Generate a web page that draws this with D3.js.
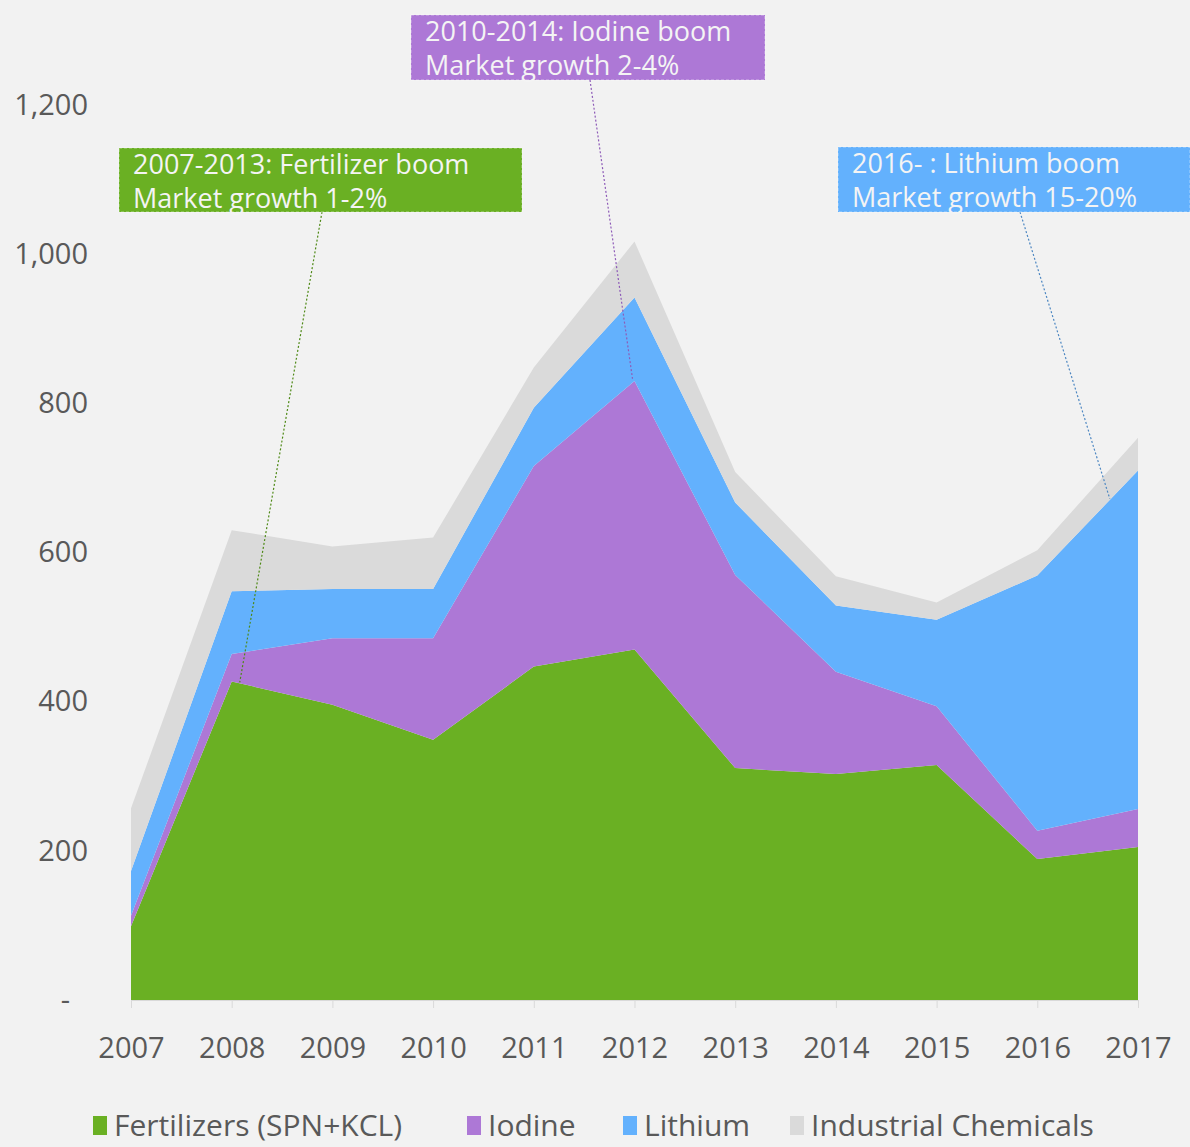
<!DOCTYPE html>
<html>
<head>
<meta charset="utf-8">
<script src="https://cdn.jsdelivr.net/npm/d3@7"></script>
<style>
  html, body { margin: 0; padding: 0; background: #f2f2f2; }
  svg { display: block; font-family: "Open Sans", sans-serif; }
  .tick text { fill: #595959; font-size: 29px; }
  .tick line { stroke: #d9d9d9; }
  .legend text { fill: #595959; font-size: 30px; }
  .note text { fill: #f4f4f4; font-size: 27px; }
</style>
</head>
<body>
<div id="chart"></div>
<script>
const years = [2007, 2008, 2009, 2010, 2011, 2012, 2013, 2014, 2015, 2016, 2017];
const fertilizers = [99, 427, 396, 349, 447, 470, 311, 303, 315, 189, 205];
const iodine = [14, 37, 89, 136, 269, 360, 259, 137, 79, 38, 51];
const lithium = [60, 84, 66, 66, 78, 112, 97, 89, 116, 342, 454];
const industrial = [84, 82, 57, 69, 54, 75, 41, 39, 23, 34, 44];

const seriesNames = ["Fertilizers (SPN+KCL)", "Iodine", "Lithium", "Industrial Chemicals"];
const yTicks = [0, 200, 400, 600, 800, 1000, 1200];

// boom call-outs: text lines and the point on the chart each one points at
const notes = [
  { lines: ["2007-2013: Fertilizer boom", "Market growth 1-2%"], year: 2008.08, value: 426 },
  { lines: ["2010-2014: Iodine boom", "Market growth 2-4%"], year: 2011.98, value: 833 },
  { lines: ["2016- : Lithium boom", "Market growth 15-20%"], year: 2016.72, value: 672 },
];

const colors = ["#6ab023", "#ad78d6", "#63b1fd", "#dadada"];
const noteBoxes = [
  { x: 119, y: 148, w: 403, h: 64, fill: "#6ab023", line: "#4f8a17" },
  { x: 411, y: 15, w: 354, h: 65, fill: "#ad78d6", line: "#8e5bb8" },
  { x: 838, y: 147, w: 352, h: 65, fill: "#63b1fd", line: "#4d87c2" },
];

const width = 1190, height = 1147;
const margin = { top: 105, right: 52, bottom: 147, left: 131 };

const table = years.map((year, i) => ({
  year,
  [seriesNames[0]]: fertilizers[i],
  [seriesNames[1]]: iodine[i],
  [seriesNames[2]]: lithium[i],
  [seriesNames[3]]: industrial[i],
}));

const stacked = d3.stack().keys(seriesNames)(table);

const x = d3.scaleLinear()
  .domain(d3.extent(years))
  .range([margin.left, width - margin.right]);
const y = d3.scaleLinear()
  .domain([0, 1200])
  .range([height - margin.bottom, margin.top]);

const svg = d3.select("#chart").append("svg")
  .attr("width", width)
  .attr("height", height);

svg.append("rect").attr("width", width).attr("height", height).attr("fill", "#f2f2f2");

const area = d3.area()
  .x((d) => x(d.data.year))
  .y0((d) => y(d[0]))
  .y1((d) => y(d[1]));

svg.append("g")
  .selectAll("path")
  .data(stacked)
  .join("path")
  .attr("fill", (d, i) => colors[i])
  .attr("d", area);

// y axis
svg.append("g")
  .attr("transform", `translate(${margin.left - 43},0)`)
  .call(d3.axisLeft(y).tickValues(yTicks).tickSize(0).tickPadding(0)
    .tickFormat((d) => (d === 0 ? "-" : d3.format(",")(d))))
  .attr("font-family", null)
  .attr("font-size", null)
  .call((g) => g.select(".domain").remove())
  .call((g) => g.selectAll(".tick text")
    .filter((d) => d === 0)
    .attr("dx", -18));

// x axis
svg.append("g")
  .attr("transform", `translate(0,${height - margin.bottom})`)
  .call(d3.axisBottom(x).tickValues(years).tickSize(8).tickPadding(29)
    .tickFormat(d3.format("d")))
  .attr("font-family", null)
  .attr("font-size", null)
  .call((g) => g.select(".domain").attr("stroke", "#d9d9d9"));

// call-outs
const note = svg.append("g")
  .selectAll(".note")
  .data(notes)
  .join("g")
  .attr("class", "note");

note.append("line")
  .attr("x1", (d, i) => noteBoxes[i].x + [203, 179, 182][i])
  .attr("y1", (d, i) => noteBoxes[i].y + noteBoxes[i].h)
  .attr("x2", (d) => x(d.year))
  .attr("y2", (d) => y(d.value))
  .attr("stroke", (d, i) => noteBoxes[i].line)
  .attr("stroke-width", 1.2)
  .attr("stroke-dasharray", "2,2");

note.append("rect")
  .attr("x", (d, i) => noteBoxes[i].x)
  .attr("y", (d, i) => noteBoxes[i].y)
  .attr("width", (d, i) => noteBoxes[i].w)
  .attr("height", (d, i) => noteBoxes[i].h)
  .attr("fill", (d, i) => noteBoxes[i].fill)
  .attr("stroke", "rgba(255,255,255,0.45)")
  .attr("stroke-dasharray", "3,2");

note.append("text")
  .attr("x", (d, i) => noteBoxes[i].x + 14)
  .attr("y", (d, i) => noteBoxes[i].y + 26)
  .selectAll("tspan")
  .data((d) => d.lines)
  .join("tspan")
  .attr("x", function () { return this.parentNode.getAttribute("x"); })
  .attr("dy", (d, i) => (i === 0 ? 0 : 34))
  .text((d) => d);

// legend
const legendX = [93, 467, 623, 790];
const legend = svg.append("g")
  .attr("class", "legend")
  .attr("transform", `translate(0,${height - 11})`)
  .selectAll("g")
  .data(seriesNames)
  .join("g")
  .attr("transform", (d, i) => `translate(${legendX[i]},0)`);

legend.append("rect")
  .attr("y", -20)
  .attr("width", 14)
  .attr("height", 19)
  .attr("fill", (d, i) => colors[i]);

legend.append("text")
  .attr("x", 21)
  .text((d) => d);
</script>
</body>
</html>
